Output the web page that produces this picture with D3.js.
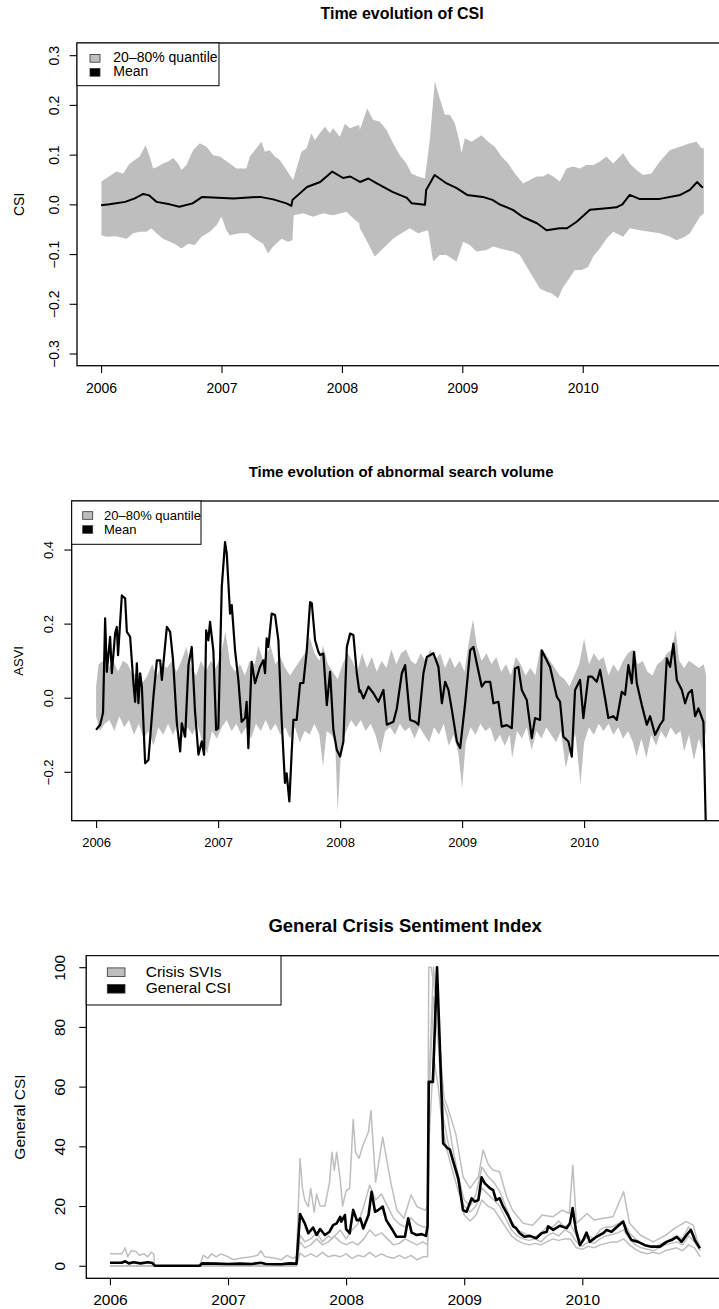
<!DOCTYPE html>
<html>
<head>
<meta charset="utf-8">
<script src="https://cdn.jsdelivr.net/npm/d3@7"></script>
<style>
  body { margin: 0; background: #fff; }
  text { font-family: "Liberation Sans", Arial, Helvetica, sans-serif; fill: #000; }
</style>
</head>
<body>
<div id="chart"></div>
<script>
// ---- data (decimal year, value) ----
const years = [2006, 2007, 2008, 2009, 2010];

// panel 1: CSI quantile band and mean
const csiUpper = [[2006.003,0.046],[2006.128,0.066],[2006.183,0.062],[2006.238,0.082],[2006.280,0.089],[2006.321,0.096],
  [2006.369,0.119],[2006.404,0.096],[2006.432,0.072],[2006.474,0.076],[2006.515,0.082],[2006.557,0.086],[2006.598,0.093],
  [2006.640,0.082],[2006.668,0.069],[2006.709,0.079],[2006.764,0.109],[2006.820,0.123],[2006.875,0.116],[2006.930,0.099],
  [2006.986,0.096],[2007.069,0.082],[2007.124,0.072],[2007.207,0.072],[2007.235,0.096],[2007.277,0.109],[2007.332,0.126],
  [2007.360,0.106],[2007.401,0.109],[2007.443,0.096],[2007.484,0.089],[2007.540,0.069],[2007.595,0.049],[2007.664,0.106],
  [2007.706,0.113],[2007.747,0.143],[2007.775,0.129],[2007.816,0.143],[2007.858,0.156],[2007.900,0.143],[2007.927,0.153],
  [2007.983,0.136],[2008.024,0.162],[2008.066,0.153],[2008.143,0.160],[2008.149,0.150],[2008.210,0.193],[2008.259,0.170],
  [2008.315,0.166],[2008.370,0.150],[2008.425,0.123],[2008.481,0.099],[2008.536,0.082],[2008.578,0.062],[2008.633,0.056],
  [2008.689,0.052],[2008.730,0.129],[2008.772,0.247],[2008.813,0.213],[2008.855,0.180],[2008.896,0.180],[2008.938,0.163],
  [2008.974,0.129],[2008.993,0.103],[2009.021,0.133],[2009.076,0.126],[2009.159,0.139],[2009.215,0.126],[2009.270,0.116],
  [2009.325,0.096],[2009.381,0.082],[2009.436,0.062],[2009.505,0.042],[2009.561,0.049],[2009.616,0.056],[2009.671,0.056],
  [2009.713,0.062],[2009.754,0.056],[2009.810,0.046],[2009.865,0.072],[2009.920,0.076],[2009.976,0.072],[2010.031,0.079],
  [2010.087,0.079],[2010.142,0.086],[2010.197,0.096],[2010.253,0.082],[2010.336,0.103],[2010.391,0.082],[2010.447,0.069],
  [2010.502,0.059],[2010.571,0.062],[2010.640,0.086],[2010.723,0.109],[2010.807,0.116],[2010.890,0.123],[2010.945,0.126],
  [2010.987,0.113],[2011.006,0.113]];
const csiLower = [[2006.003,-0.062],[2006.045,-0.065],[2006.128,-0.064],[2006.211,-0.069],[2006.266,-0.058],[2006.321,-0.055],
  [2006.377,-0.055],[2006.418,-0.048],[2006.460,-0.058],[2006.515,-0.069],[2006.571,-0.075],[2006.626,-0.082],[2006.668,-0.089],
  [2006.723,-0.079],[2006.778,-0.082],[2006.834,-0.065],[2006.903,-0.055],[2006.958,-0.042],[2007.000,-0.025],[2007.041,-0.052],
  [2007.069,-0.062],[2007.152,-0.058],[2007.221,-0.058],[2007.277,-0.069],[2007.346,-0.079],[2007.387,-0.099],[2007.429,-0.085],
  [2007.498,-0.069],[2007.553,-0.075],[2007.589,-0.072],[2007.600,-0.022],[2007.678,-0.018],[2007.761,-0.025],[2007.844,-0.018],
  [2007.927,-0.022],[2008.038,-0.015],[2008.093,-0.028],[2008.143,-0.038],[2008.149,-0.048],[2008.204,-0.072],[2008.273,-0.105],
  [2008.342,-0.089],[2008.425,-0.069],[2008.495,-0.058],[2008.564,-0.048],[2008.633,-0.058],[2008.716,-0.052],[2008.758,-0.115],
  [2008.813,-0.102],[2008.869,-0.102],[2008.952,-0.115],[2009.007,-0.075],[2009.062,-0.082],[2009.118,-0.095],[2009.201,-0.092],
  [2009.256,-0.085],[2009.312,-0.089],[2009.367,-0.092],[2009.422,-0.095],[2009.478,-0.102],[2009.519,-0.119],[2009.561,-0.136],
  [2009.602,-0.152],[2009.644,-0.169],[2009.699,-0.176],[2009.741,-0.179],[2009.796,-0.189],[2009.838,-0.166],[2009.879,-0.152],
  [2009.934,-0.132],[2009.990,-0.132],[2010.045,-0.126],[2010.087,-0.105],[2010.142,-0.089],[2010.197,-0.069],[2010.253,-0.055],
  [2010.336,-0.065],[2010.391,-0.048],[2010.474,-0.052],[2010.557,-0.055],[2010.640,-0.058],[2010.723,-0.065],[2010.779,-0.072],
  [2010.848,-0.065],[2010.890,-0.058],[2010.931,-0.042],[2010.973,-0.025],[2011.006,-0.018]];
const csiMean = [[2006.00,-0.002],[2006.07,0.000],[2006.20,0.005],[2006.28,0.012],[2006.35,0.021],[2006.40,0.018],
  [2006.46,0.005],[2006.57,0.000],[2006.65,-0.005],[2006.76,0.002],[2006.84,0.015],[2007.10,0.012],[2007.32,0.015],
  [2007.43,0.010],[2007.54,0.002],[2007.58,-0.003],[2007.59,0.009],[2007.71,0.035],[2007.82,0.045],[2007.92,0.066],
  [2008.01,0.053],[2008.07,0.056],[2008.15,0.045],[2008.22,0.052],[2008.29,0.042],[2008.42,0.025],[2008.54,0.013],
  [2008.58,0.002],[2008.69,-0.001],[2008.70,0.029],[2008.77,0.059],[2008.87,0.042],[2008.95,0.033],[2009.04,0.019],
  [2009.17,0.015],[2009.25,0.009],[2009.31,0.000],[2009.42,-0.011],[2009.50,-0.025],[2009.62,-0.038],[2009.70,-0.052],
  [2009.81,-0.048],[2009.87,-0.048],[2009.95,-0.035],[2010.06,-0.011],[2010.20,-0.008],[2010.28,-0.006],[2010.33,0.000],
  [2010.39,0.019],[2010.47,0.011],[2010.64,0.011],[2010.81,0.019],[2010.89,0.029],[2010.95,0.045],[2010.99,0.035],
  [2011.00,0.034]];

// panel 2: ASVI quantile band and mean
const asviUpper = [[2006.00,0.03],[2006.02,0.09],[2006.06,0.10],[2006.10,0.08],[2006.14,0.10],[2006.18,0.07],[2006.22,0.10],
  [2006.26,0.09],[2006.30,0.06],[2006.34,0.07],[2006.38,0.04],[2006.42,0.06],[2006.46,0.09],[2006.50,0.06],[2006.54,0.09],
  [2006.58,0.08],[2006.62,0.10],[2006.66,0.07],[2006.70,0.10],[2006.74,0.137],[2006.78,0.08],[2006.82,0.06],[2006.86,0.10],
  [2006.90,0.07],[2006.94,0.10],[2006.98,0.08],[2007.02,0.11],[2007.06,0.178],[2007.10,0.09],[2007.14,0.07],[2007.18,0.09],
  [2007.22,0.06],[2007.26,0.10],[2007.30,0.09],[2007.33,0.14],[2007.37,0.10],[2007.40,0.12],[2007.43,0.14],[2007.47,0.09],
  [2007.51,0.11],[2007.55,0.08],[2007.59,0.06],[2007.63,0.08],[2007.67,0.10],[2007.71,0.12],[2007.75,0.164],[2007.79,0.12],
  [2007.83,0.10],[2007.86,0.14],[2007.90,0.09],[2007.94,0.07],[2007.98,0.05],[2008.02,0.09],[2008.06,0.12],[2008.10,0.10],
  [2008.14,0.07],[2008.18,0.12],[2008.22,0.08],[2008.26,0.11],[2008.30,0.07],[2008.34,0.10],[2008.38,0.08],[2008.42,0.13],
  [2008.46,0.09],[2008.50,0.12],[2008.54,0.13],[2008.58,0.10],[2008.62,0.09],[2008.66,0.12],[2008.70,0.10],[2008.74,0.13],
  [2008.78,0.10],[2008.82,0.12],[2008.86,0.08],[2008.90,0.11],[2008.94,0.08],[2008.98,0.10],[2009.02,0.07],[2009.06,0.16],
  [2009.09,0.212],[2009.12,0.14],[2009.16,0.10],[2009.20,0.12],[2009.24,0.09],[2009.28,0.11],[2009.32,0.07],[2009.36,0.09],
  [2009.40,0.06],[2009.44,0.11],[2009.48,0.09],[2009.52,0.06],[2009.56,0.08],[2009.60,0.06],[2009.64,0.13],[2009.68,0.12],
  [2009.72,0.10],[2009.76,0.08],[2009.80,0.06],[2009.84,0.05],[2009.88,0.03],[2009.92,0.06],[2009.96,0.09],[2010.00,0.16],
  [2010.04,0.09],[2010.08,0.12],[2010.12,0.10],[2010.16,0.11],[2010.20,0.06],[2010.24,0.09],[2010.28,0.07],[2010.32,0.10],
  [2010.36,0.12],[2010.40,0.13],[2010.44,0.09],[2010.48,0.10],[2010.52,0.07],[2010.56,0.06],[2010.60,0.09],[2010.64,0.10],
  [2010.68,0.12],[2010.72,0.13],[2010.75,0.184],[2010.78,0.10],[2010.82,0.08],[2010.86,0.10],[2010.90,0.09],[2010.94,0.08],
  [2010.98,0.09],[2011.00,0.06]];
const asviLower = [[2006.00,-0.05],[2006.03,-0.09],[2006.07,-0.07],[2006.11,-0.06],[2006.15,-0.09],[2006.19,-0.05],
  [2006.23,-0.08],[2006.27,-0.06],[2006.31,-0.10],[2006.35,-0.07],[2006.39,-0.11],[2006.43,-0.09],[2006.47,-0.13],
  [2006.51,-0.08],[2006.55,-0.10],[2006.59,-0.07],[2006.63,-0.10],[2006.67,-0.07],[2006.71,-0.11],[2006.75,-0.08],
  [2006.79,-0.10],[2006.83,-0.07],[2006.87,-0.12],[2006.91,-0.15],[2006.95,-0.09],[2006.99,-0.11],[2007.03,-0.08],
  [2007.07,-0.06],[2007.11,-0.09],[2007.15,-0.07],[2007.19,-0.10],[2007.23,-0.08],[2007.27,-0.11],[2007.31,-0.07],
  [2007.35,-0.09],[2007.39,-0.06],[2007.43,-0.09],[2007.47,-0.07],[2007.51,-0.10],[2007.55,-0.08],[2007.59,-0.11],
  [2007.63,-0.08],[2007.67,-0.12],[2007.71,-0.09],[2007.75,-0.10],[2007.79,-0.07],[2007.83,-0.10],[2007.86,-0.186],
  [2007.89,-0.09],[2007.93,-0.10],[2007.96,-0.12],[2007.98,-0.31],[2008.01,-0.13],[2008.05,-0.09],[2008.09,-0.06],
  [2008.13,-0.08],[2008.17,-0.06],[2008.21,-0.09],[2008.25,-0.07],[2008.29,-0.10],[2008.33,-0.15],[2008.37,-0.09],
  [2008.41,-0.08],[2008.45,-0.10],[2008.49,-0.07],[2008.53,-0.09],[2008.57,-0.08],[2008.61,-0.11],[2008.65,-0.08],
  [2008.69,-0.10],[2008.73,-0.12],[2008.77,-0.08],[2008.81,-0.10],[2008.85,-0.07],[2008.89,-0.13],[2008.93,-0.10],
  [2008.97,-0.15],[2009.00,-0.244],[2009.03,-0.12],[2009.07,-0.08],[2009.11,-0.10],[2009.15,-0.07],[2009.19,-0.09],
  [2009.23,-0.08],[2009.27,-0.12],[2009.31,-0.10],[2009.35,-0.13],[2009.39,-0.10],[2009.41,-0.163],[2009.45,-0.09],
  [2009.49,-0.11],[2009.53,-0.08],[2009.57,-0.141],[2009.61,-0.09],[2009.65,-0.11],[2009.69,-0.08],[2009.73,-0.10],
  [2009.77,-0.12],[2009.81,-0.09],[2009.85,-0.19],[2009.89,-0.13],[2009.93,-0.10],[2009.97,-0.235],[2010.00,-0.12],
  [2010.04,-0.08],[2010.08,-0.10],[2010.12,-0.07],[2010.16,-0.09],[2010.20,-0.07],[2010.24,-0.10],[2010.28,-0.08],
  [2010.32,-0.11],[2010.36,-0.09],[2010.40,-0.12],[2010.43,-0.159],[2010.47,-0.11],[2010.51,-0.163],[2010.55,-0.10],
  [2010.59,-0.13],[2010.63,-0.09],[2010.67,-0.11],[2010.71,-0.08],[2010.75,-0.10],[2010.79,-0.09],[2010.82,-0.145],
  [2010.86,-0.10],[2010.90,-0.168],[2010.94,-0.11],[2010.97,-0.14],[2011.00,-0.09]];
const asviMean = [[2006.000,-0.087],[2006.033,-0.073],[2006.047,-0.055],[2006.057,-0.040],[2006.074,0.214],[2006.088,0.070],
  [2006.115,0.164],[2006.129,0.066],[2006.156,0.174],[2006.170,0.191],[2006.180,0.115],[2006.211,0.276],[2006.238,0.268],
  [2006.252,0.178],[2006.279,0.164],[2006.306,0.039],[2006.320,-0.011],[2006.334,0.093],[2006.347,-0.015],[2006.361,0.066],
  [2006.375,0.030],[2006.402,-0.177],[2006.429,-0.168],[2006.470,0.003],[2006.498,0.101],[2006.525,0.101],[2006.539,0.048],
  [2006.580,0.191],[2006.607,0.178],[2006.631,0.101],[2006.661,-0.065],[2006.689,-0.145],[2006.702,-0.069],[2006.730,-0.105],
  [2006.757,0.088],[2006.784,0.137],[2006.811,-0.038],[2006.839,-0.154],[2006.866,-0.118],[2006.885,-0.154],[2006.902,0.182],
  [2006.920,0.155],[2006.934,0.205],[2006.961,0.128],[2006.984,-0.087],[2007.002,-0.082],[2007.030,0.299],[2007.057,0.420],
  [2007.071,0.389],[2007.098,0.227],[2007.112,0.250],[2007.139,0.128],[2007.166,0.048],[2007.193,-0.065],[2007.221,-0.055],
  [2007.234,-0.011],[2007.248,-0.136],[2007.275,0.097],[2007.303,0.039],[2007.343,0.083],[2007.371,0.101],[2007.385,0.066],
  [2007.398,0.160],[2007.412,0.137],[2007.439,0.227],[2007.467,0.223],[2007.494,0.155],[2007.521,-0.060],[2007.548,-0.230],
  [2007.562,-0.204],[2007.584,-0.280],[2007.604,-0.141],[2007.617,-0.060],[2007.644,-0.060],[2007.672,0.039],[2007.699,0.040],
  [2007.727,0.128],[2007.754,0.258],[2007.768,0.255],[2007.795,0.155],[2007.822,0.124],[2007.836,0.115],[2007.863,0.119],
  [2007.891,-0.020],[2007.918,0.070],[2007.945,-0.087],[2007.973,-0.141],[2008.000,-0.159],[2008.027,-0.118],[2008.055,0.137],
  [2008.082,0.173],[2008.109,0.169],[2008.137,0.066],[2008.158,0.016],[2008.164,0.021],[2008.191,-0.002],[2008.232,0.030],
  [2008.273,0.012],[2008.314,-0.011],[2008.355,0.021],[2008.383,-0.073],[2008.437,-0.065],[2008.465,-0.029],[2008.506,0.066],
  [2008.533,0.088],[2008.574,-0.060],[2008.615,-0.065],[2008.642,-0.073],[2008.683,0.066],[2008.711,0.110],[2008.765,0.120],
  [2008.806,0.083],[2008.834,-0.015],[2008.861,0.043],[2008.888,0.021],[2008.916,-0.033],[2008.957,-0.118],[2008.984,-0.136],
  [2009.025,-0.015],[2009.066,0.128],[2009.093,0.137],[2009.120,0.093],[2009.161,0.030],[2009.189,0.043],[2009.230,0.043],
  [2009.257,-0.015],[2009.298,-0.011],[2009.325,-0.078],[2009.366,-0.074],[2009.407,-0.082],[2009.434,0.079],[2009.461,0.083],
  [2009.489,0.021],[2009.530,-0.006],[2009.571,-0.109],[2009.598,-0.055],[2009.639,-0.060],[2009.653,0.128],[2009.680,0.110],
  [2009.721,0.083],[2009.776,0.003],[2009.803,-0.011],[2009.830,-0.105],[2009.871,-0.118],[2009.899,-0.159],[2009.926,0.021],
  [2009.967,0.048],[2009.994,-0.055],[2010.035,0.057],[2010.063,0.057],[2010.104,0.043],[2010.131,0.075],[2010.172,-0.002],
  [2010.199,-0.055],[2010.240,-0.050],[2010.268,-0.060],[2010.309,0.016],[2010.336,0.008],[2010.363,0.088],[2010.391,0.039],
  [2010.410,0.124],[2010.432,0.039],[2010.473,-0.020],[2010.514,-0.073],[2010.541,-0.050],[2010.582,-0.100],[2010.623,-0.073],
  [2010.650,-0.060],[2010.678,0.106],[2010.705,0.083],[2010.732,0.146],[2010.760,0.048],[2010.801,0.021],[2010.828,-0.015],
  [2010.855,0.012],[2010.883,0.021],[2010.910,-0.050],[2010.937,-0.029],[2010.978,-0.065],[2011.005,-0.450]];

// panel 3: crisis SVIs (grey) and general CSI (black)
const sviA = [[2006.00,4.0],[2006.10,4.0],[2006.13,6.0],[2006.15,3.0],[2006.18,5.0],[2006.22,4.8],[2006.25,3.5],[2006.29,4.0],
  [2006.32,3.0],[2006.35,4.5],[2006.37,4.0],[2006.38,0.0],[2006.76,0.0],[2006.79,3.5],[2006.83,2.5],[2006.86,4.0],[2006.90,3.0],
  [2006.94,4.0],[2007.00,3.0],[2007.05,2.0],[2007.10,2.5],[2007.20,3.0],[2007.25,3.5],[2007.28,5.0],[2007.31,3.0],[2007.40,2.5],
  [2007.45,2.0],[2007.50,3.5],[2007.55,2.5],[2007.58,3.0],[2007.61,36.0],[2007.63,26.0],[2007.65,22.0],[2007.68,19.8],
  [2007.70,26.0],[2007.73,18.0],[2007.75,24.0],[2007.78,20.0],[2007.82,20.0],[2007.86,28.0],[2007.88,38.0],[2007.90,32.0],
  [2007.92,38.0],[2007.95,29.0],[2007.97,20.0],[2008.00,25.0],[2008.03,26.0],[2008.06,49.0],[2008.08,38.0],[2008.11,36.0],
  [2008.14,40.0],[2008.19,45.0],[2008.21,52.0],[2008.25,28.0],[2008.31,43.0],[2008.38,27.6],[2008.43,18.6],[2008.49,15.9],
  [2008.55,23.7],[2008.60,19.8],[2008.67,18.6],[2008.69,20.0],[2008.70,100],[2008.72,100],[2008.76,90],[2008.80,70],
  [2008.83,56],[2008.86,53],[2008.93,44],[2008.99,29.8],[2009.05,26],[2009.12,29.8],[2009.16,38.8],[2009.20,34.3],
  [2009.24,32.1],[2009.30,31.5],[2009.36,23.1],[2009.41,18.6],[2009.50,14.2],[2009.58,13.6],[2009.66,17.0],[2009.75,16.4],
  [2009.83,18.6],[2009.89,17.5],[2009.92,33.7],[2009.95,14.2],[2010.04,17.5],[2010.10,15.3],[2010.18,15.9],[2010.26,16.4],
  [2010.35,24.8],[2010.40,14.2],[2010.49,10.3],[2010.60,8.0],[2010.71,10.3],[2010.78,12.5],[2010.88,14.8],[2010.94,13.6],
  [2010.98,7.5],[2011.00,6.0]];
const sviB = [[2006.00,0],[2007.58,0],[2007.61,10.3],[2007.65,8],[2007.70,9],[2007.75,11],[2007.80,8],[2007.85,10],[2007.88,9],
  [2007.95,12],[2008.00,9],[2008.05,12],[2008.10,14],[2008.15,20],[2008.20,27],[2008.25,22],[2008.30,24],[2008.35,20],
  [2008.40,16],[2008.45,14],[2008.50,13],[2008.55,16],[2008.60,14],[2008.65,13],[2008.69,13],[2008.70,60],[2008.74,100],
  [2008.78,85],[2008.82,55],[2008.86,50],[2008.90,40],[2008.95,30],[2009.00,22],[2009.05,20],[2009.10,24],[2009.15,33],
  [2009.20,30],[2009.25,28],[2009.30,25],[2009.35,20],[2009.40,15],[2009.45,12],[2009.50,11],[2009.55,10],[2009.60,9.5],
  [2009.65,11],[2009.70,13],[2009.75,13],[2009.80,15],[2009.85,13],[2009.90,14],[2009.95,10],[2010.00,8],[2010.05,10],
  [2010.10,9],[2010.15,12],[2010.20,13],[2010.25,13],[2010.30,14],[2010.35,15],[2010.40,11],[2010.45,9],[2010.50,7.5],
  [2010.55,6.5],[2010.60,6],[2010.65,7],[2010.70,8],[2010.75,9],[2010.80,10],[2010.85,9],[2010.90,13],[2010.95,10],[2011.00,6]];
const sviC = [[2006.00,0],[2007.58,0],[2007.61,8],[2007.65,6],[2007.70,7],[2007.75,9],[2007.80,7],[2007.85,8],[2007.90,10],
  [2007.95,8],[2008.00,7],[2008.05,8],[2008.10,7],[2008.15,9],[2008.20,12],[2008.25,10],[2008.30,11],[2008.35,9],[2008.40,7],
  [2008.45,7.5],[2008.50,9],[2008.55,8],[2008.60,7],[2008.65,8],[2008.69,7],[2008.70,40],[2008.74,70],[2008.78,60],
  [2008.82,45],[2008.86,38],[2008.90,32],[2008.95,25],[2009.00,20],[2009.05,18],[2009.10,20],[2009.15,26],[2009.20,24],
  [2009.25,22],[2009.30,20],[2009.35,16],[2009.40,12],[2009.45,10],[2009.50,9],[2009.55,8.5],[2009.60,9],[2009.65,8],
  [2009.70,10],[2009.75,11],[2009.80,10],[2009.85,12],[2009.90,11],[2009.95,8],[2010.00,6.5],[2010.05,8],[2010.10,7.5],
  [2010.15,9],[2010.20,10],[2010.25,10.5],[2010.30,11],[2010.35,12],[2010.40,9],[2010.45,7],[2010.50,6],[2010.55,5.5],
  [2010.60,5],[2010.65,6],[2010.70,7],[2010.75,7.5],[2010.80,8],[2010.85,7],[2010.90,10],[2010.95,8],[2011.00,5]];
const sviD = [[2006.00,0],[2007.58,0],[2007.61,4.2],[2007.65,3],[2007.70,4],[2007.75,3],[2007.80,4.5],[2007.85,3],[2007.90,3.5],
  [2007.95,3],[2008.00,4],[2008.05,2.5],[2008.10,3.5],[2008.15,3],[2008.20,4.5],[2008.25,3],[2008.30,4],[2008.35,3],
  [2008.40,2.5],[2008.45,3.5],[2008.50,2.5],[2008.55,3.5],[2008.60,2],[2008.65,3],[2008.69,3],[2008.70,55],[2008.74,90],
  [2008.78,75],[2008.82,50],[2008.86,42],[2008.90,35],[2008.95,28],[2009.00,17],[2009.05,15],[2009.10,17],[2009.15,22],
  [2009.20,20],[2009.25,19],[2009.30,16],[2009.35,13],[2009.40,10],[2009.45,8.5],[2009.50,7.5],[2009.55,7],[2009.60,7.5],
  [2009.65,7],[2009.70,8],[2009.75,9],[2009.80,8.5],[2009.85,9],[2009.90,9],[2009.95,6],[2010.00,5.5],[2010.05,6.5],
  [2010.10,6],[2010.15,7],[2010.20,7.5],[2010.25,8],[2010.30,8],[2010.35,9],[2010.40,7],[2010.45,5.5],[2010.50,4.5],
  [2010.55,4],[2010.60,4.5],[2010.65,4],[2010.70,5],[2010.75,5.5],[2010.80,6],[2010.85,5],[2010.90,7],[2010.95,6],[2011.00,3]];
const generalCsi = [[2006.00,1.0],[2006.10,1.0],[2006.13,1.5],[2006.16,0.8],[2006.20,1.2],[2006.26,0.8],[2006.32,1.2],
  [2006.36,0.9],[2006.38,0.0],[2006.76,0.0],[2006.78,0.8],[2006.90,0.7],[2007.00,0.6],[2007.10,0.7],[2007.20,0.6],[2007.28,1.0],
  [2007.32,0.6],[2007.45,0.5],[2007.52,0.8],[2007.58,0.7],[2007.61,17.3],[2007.65,14.2],[2007.68,10.9],[2007.72,12.8],
  [2007.75,10.3],[2007.78,12.3],[2007.82,10.3],[2007.86,11.4],[2007.89,13.6],[2007.92,14.2],[2007.95,16.4],[2007.96,14.8],
  [2007.99,17.0],[2008.00,12.3],[2008.03,10.9],[2008.06,18.7],[2008.09,15.3],[2008.11,15.3],[2008.12,15.9],[2008.145,12.5],
  [2008.19,17.0],[2008.216,24.8],[2008.245,18.1],[2008.27,18.6],[2008.31,19.8],[2008.34,15.3],[2008.385,12.5],[2008.427,9.7],
  [2008.498,9.7],[2008.526,15.9],[2008.555,11.1],[2008.597,10.3],[2008.64,10.6],[2008.676,10.0],[2008.69,13.2],[2008.70,61.6],
  [2008.735,61.6],[2008.77,100],[2008.81,55.5],[2008.822,41],[2008.856,39.5],[2008.879,38.9],[2008.907,35],[2008.95,29.3],
  [2008.99,18.6],[2009.02,18.1],[2009.063,22.6],[2009.09,21.5],[2009.12,22.0],[2009.147,29.6],[2009.175,27.6],[2009.217,26.0],
  [2009.245,25.3],[2009.27,22.0],[2009.30,22.6],[2009.33,19.8],[2009.37,17.0],[2009.415,13.2],[2009.44,12.6],[2009.47,10.9],
  [2009.51,9.7],[2009.556,10.0],[2009.61,9.2],[2009.655,10.9],[2009.70,11.4],[2009.71,13.2],[2009.754,12.0],[2009.81,13.4],
  [2009.867,12.6],[2009.895,14.2],[2009.918,19.3],[2009.946,12.0],[2009.98,6.9],[2010.008,8.6],[2010.036,11.1],[2010.064,8.0],
  [2010.12,9.7],[2010.177,10.9],[2010.206,12.0],[2010.248,11.4],[2010.29,12.9],[2010.346,14.8],[2010.375,11.4],[2010.417,8.6],
  [2010.473,8.0],[2010.53,6.9],[2010.587,6.4],[2010.657,6.4],[2010.714,8.0],[2010.756,8.6],[2010.80,9.7],[2010.84,8.0],
  [2010.883,10.3],[2010.92,12.0],[2010.953,8.6],[2010.996,5.8]];

const csiTicks = [-0.3, -0.2, -0.1, 0.0, 0.1, 0.2, 0.3];
const asviTicks = [-0.2, 0.0, 0.2, 0.4];
const gcsiTicks = [0, 20, 40, 60, 80, 100];

// ---- drawing ----
const W = 719, H = 1309;
const svg = d3.select('#chart')
  .append('svg')
  .attr('width', W)
  .attr('height', H)
  .style('background-color', '#fff');

const grey = '#bebebe';
const line = (x, y) => d3.line().x(d => x(d[0])).y(d => y(d[1]));

function drawPanel(p) {
  const x = d3.scaleLinear().domain([2005.8, 2011.2]).range([p.left, p.right]);
  const y = d3.scaleLinear().domain(p.yDomain).range([p.bottom, p.top]);
  const g = svg.append('g');

  svg.append('clipPath').attr('id', p.id)
    .append('rect')
    .attr('x', p.left).attr('y', p.top)
    .attr('width', p.right - p.left).attr('height', p.bottom - p.top);

  const plot = g.append('g').attr('clip-path', `url(#${p.id})`);

  // quantile band: upper edge forward, lower edge back
  if (p.band) {
    const poly = p.band[0].concat(p.band[1].slice().reverse());
    plot.append('path')
      .attr('d', line(x, y)(poly) + 'Z')
      .attr('fill', grey)
      .attr('stroke', 'none');
  }
  (p.greyLines || []).forEach(s => {
    plot.append('path')
      .attr('d', line(x, y)(s))
      .attr('fill', 'none')
      .attr('stroke', grey)
      .attr('stroke-width', 1.5)
      .attr('stroke-linejoin', 'round');
  });
  plot.append('path')
    .attr('d', line(x, y)(p.mean))
    .attr('fill', 'none')
    .attr('stroke', '#000')
    .attr('stroke-width', p.meanWidth)
    .attr('stroke-linejoin', 'round');

  // x axis
  const xAxis = g.append('g')
    .attr('transform', `translate(0,${p.bottom})`)
    .call(d3.axisBottom(x).tickValues(years).tickSize(p.tick).tickFormat(d3.format('d')));
  xAxis.select('.domain').remove();
  xAxis.selectAll('line').attr('stroke', '#000').attr('stroke-width', 1.1);
  xAxis.selectAll('text')
    .attr('y', p.xLabelOff).attr('dy', 0)
    .style('font-size', p.tickFont + 'px');

  // y axis, labels parallel to the axis
  const yAxis = g.append('g')
    .attr('transform', `translate(${p.left},0)`)
    .call(d3.axisLeft(y).tickValues(p.yTicks).tickSize(p.tick).tickFormat(p.yFormat));
  yAxis.select('.domain').remove();
  yAxis.selectAll('line').attr('stroke', '#000').attr('stroke-width', 1.1);
  yAxis.selectAll('text')
    .attr('transform', 'rotate(-90)')
    .attr('x', 0).attr('y', -p.yLabelOff).attr('dy', 0)
    .attr('text-anchor', 'middle')
    .style('font-size', p.tickFont + 'px');

  // box
  g.append('rect')
    .attr('x', p.left).attr('y', p.top)
    .attr('width', p.right - p.left).attr('height', p.bottom - p.top)
    .attr('fill', 'none').attr('stroke', '#000').attr('stroke-width', 1.3);

  // titles
  g.append('text')
    .attr('x', (p.left + p.right) / 2).attr('y', p.titleY)
    .attr('text-anchor', 'middle')
    .style('font-size', p.titleFont + 'px').style('font-weight', 'bold')
    .text(p.title);
  g.append('text')
    .attr('transform', `translate(${p.yTitleX},${(p.top + p.bottom) / 2}) rotate(-90)`)
    .attr('text-anchor', 'middle')
    .style('font-size', p.tickFont + 'px')
    .text(p.yTitle);

  // legend
  const L = p.legend;
  g.append('rect')
    .attr('x', p.left).attr('y', p.top)
    .attr('width', L.w).attr('height', L.h)
    .attr('fill', '#fff').attr('stroke', '#000').attr('stroke-width', 1);
  L.items.forEach((it, i) => {
    g.append('rect')
      .attr('x', L.boxX).attr('y', L.boxY[i])
      .attr('width', L.boxW).attr('height', L.boxH)
      .attr('fill', it.fill).attr('stroke', '#333').attr('stroke-width', 0.8);
    g.append('text')
      .attr('x', L.textX).attr('y', L.textY[i])
      .style('font-size', L.font + 'px')
      .text(it.label);
  });
}

drawPanel({
  id: 'clip1', left: 77, right: 727.2, top: 43, bottom: 365.7,
  yDomain: [-0.3245, 0.3245], yTicks: csiTicks, yFormat: d3.format('.1f'),
  band: [csiUpper, csiLower], mean: csiMean, meanWidth: 2,
  tick: 7.4, tickFont: 14, xLabelOff: 27, yLabelOff: 18,
  title: 'Time evolution of CSI', titleY: 19, titleFont: 16,
  yTitle: 'CSI', yTitleX: 23.5,
  legend: { w: 142, h: 42.7, boxX: 90, boxY: [54.5, 68.5], boxW: 10, boxH: 7.7,
    textX: 113.3, textY: [62.3, 76], font: 14,
    items: [{ label: '20–80% quantile', fill: grey }, { label: 'Mean', fill: '#000' }] }
});

drawPanel({
  id: 'clip2', left: 71.7, right: 730.5, top: 501, bottom: 820.7,
  yDomain: [-0.332, 0.531], yTicks: asviTicks, yFormat: d3.format('.1f'),
  band: [asviUpper, asviLower], mean: asviMean, meanWidth: 2.2,
  tick: 7.4, tickFont: 13, xLabelOff: 26.3, yLabelOff: 18.4,
  title: 'Time evolution of abnormal search volume', titleY: 476.7, titleFont: 15,
  yTitle: 'ASVI', yTitleX: 23,
  legend: { w: 129.3, h: 43.3, boxX: 82.7, boxY: [511.7, 525.7], boxW: 10, boxH: 7.6,
    textX: 104, textY: [520, 534], font: 13,
    items: [{ label: '20–80% quantile', fill: grey }, { label: 'Mean', fill: '#000' }] }
});

drawPanel({
  id: 'clip3', left: 86.3, right: 724, top: 955.7, bottom: 1278.3,
  yDomain: [-4.2, 103.85], yTicks: gcsiTicks, yFormat: d3.format('d'),
  greyLines: [sviD, sviC, sviB, sviA], mean: generalCsi, meanWidth: 2.6,
  tick: 7, tickFont: 15.5, xLabelOff: 26.7, yLabelOff: 21.3,
  title: 'General Crisis Sentiment Index', titleY: 931.7, titleFont: 18.5,
  yTitle: 'General CSI', yTitleX: 25,
  legend: { w: 194.7, h: 49.3, boxX: 107.3, boxY: [967.9, 984.5], boxW: 17.7, boxH: 8.6,
    textX: 145.7, textY: [976.7, 993.3], font: 15.5,
    items: [{ label: 'Crisis SVIs', fill: grey }, { label: 'General CSI', fill: '#000' }] }
});
</script>
</body>
</html>
